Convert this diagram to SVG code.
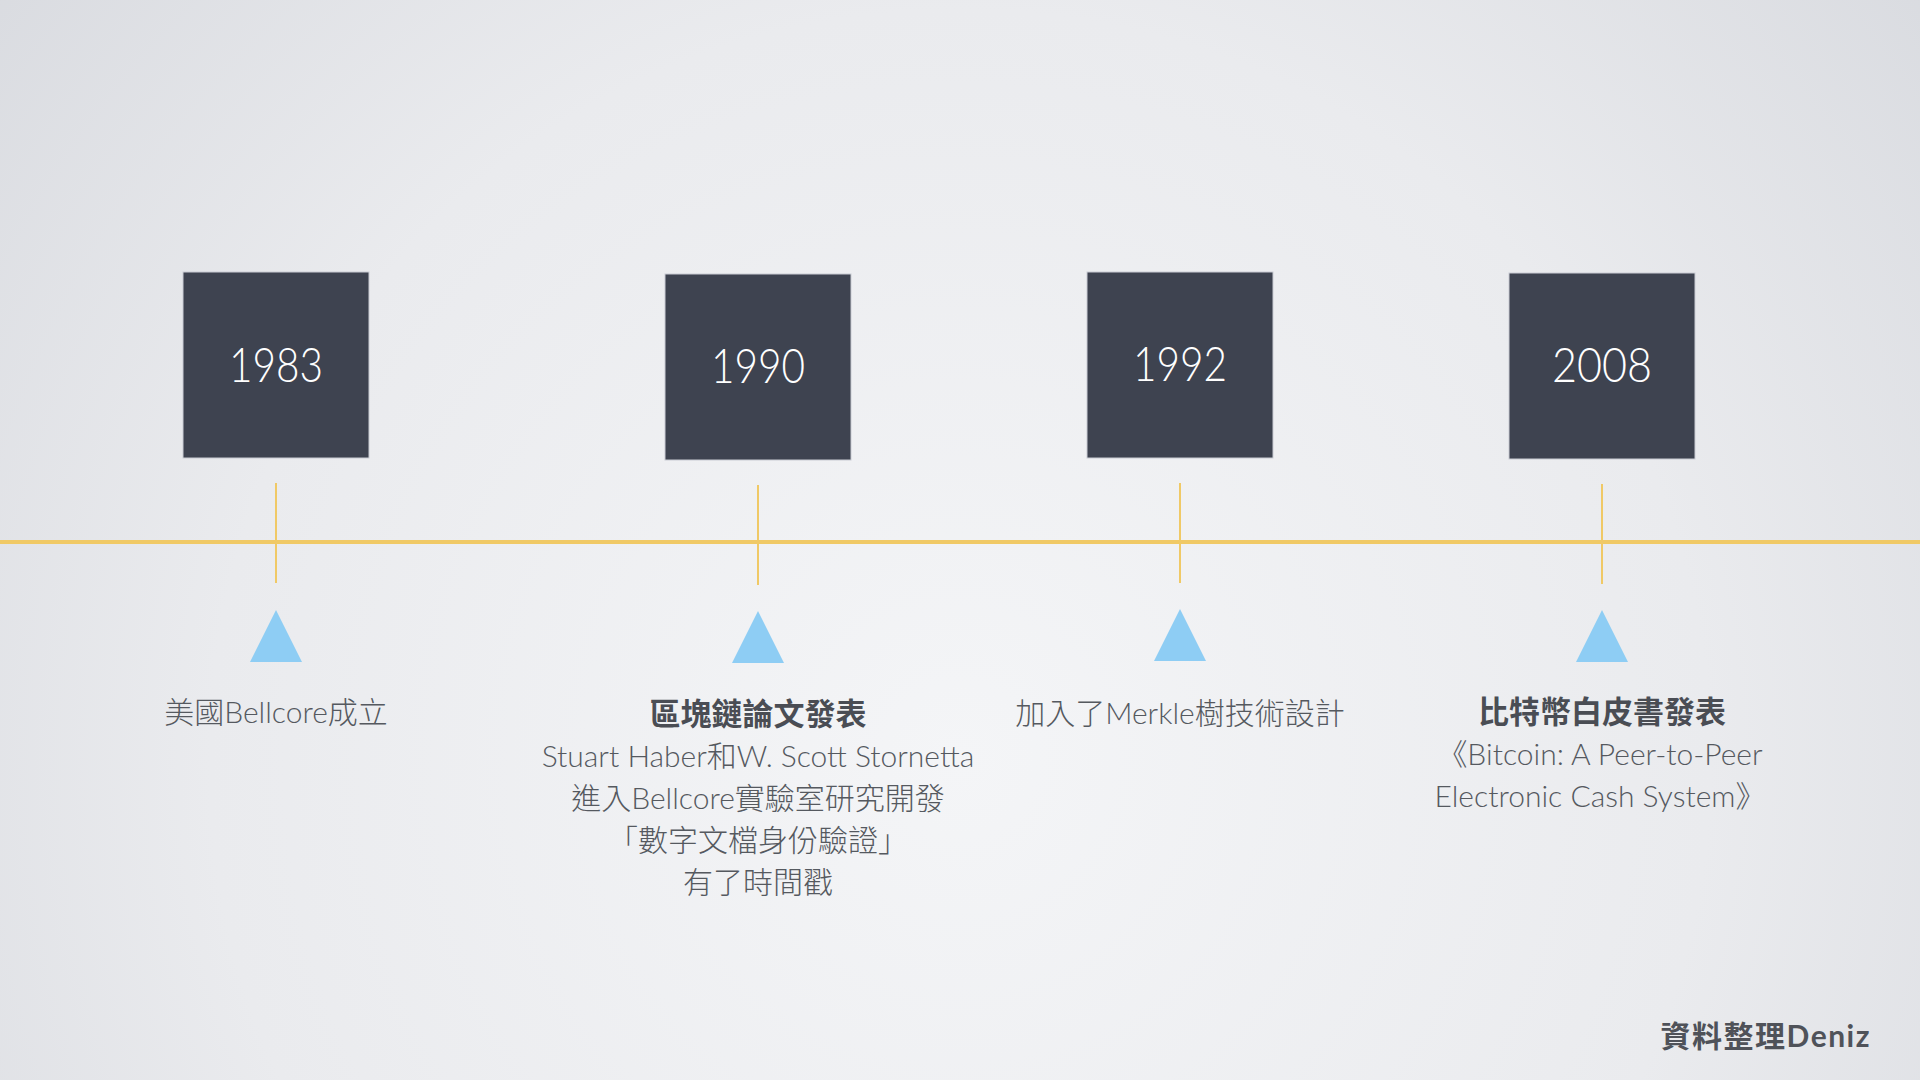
<svg xmlns="http://www.w3.org/2000/svg" width="1920" height="1080" viewBox="0 0 1920 1080">
<defs>
<radialGradient id="bg" cx="960" cy="760" r="1250" gradientUnits="userSpaceOnUse">
<stop offset="0" stop-color="#f4f5f7"/>
<stop offset="0.6" stop-color="#eaebee"/>
<stop offset="1" stop-color="#d9dbe0"/>
</radialGradient>
<style>
.box{fill:#3e4350;stroke:#c9ccd3;stroke-width:1}
.year{font-family:"Lato","Open Sans",sans-serif;font-weight:300;font-size:47px;fill:#ffffff;text-anchor:middle}
.tick{stroke:#f0c966;stroke-width:2}
.tri{fill:#8ecdf4}
.t{font-family:"Lato","Noto Sans CJK TC",sans-serif;font-weight:300;font-size:30px;fill:#55595f;text-anchor:middle}
.b{font-family:"Lato","Noto Sans CJK TC",sans-serif;font-weight:700;font-size:31px;fill:#4a4d54;text-anchor:middle}
.credit{font-family:"Lato","Noto Sans CJK TC",sans-serif;font-weight:700;font-size:30px;letter-spacing:1.5px;fill:#4f5259;text-anchor:end}
</style>
</defs>
<rect width="1920" height="1080" fill="url(#bg)"/>
<g id="connectors">
<line x1="0" y1="542" x2="1920" y2="542" stroke="#f0c966" stroke-width="4"/>
<line class="tick" x1="276" y1="483" x2="276" y2="583"/>
<line class="tick" x1="758" y1="485" x2="758" y2="585"/>
<line class="tick" x1="1180" y1="483" x2="1180" y2="583"/>
<line class="tick" x1="1602" y1="484" x2="1602" y2="584"/>
</g>
<g id="node-1983">
<rect class="box" x="183" y="272" width="186" height="186"/>
<text class="year" x="276" y="382" textLength="94" lengthAdjust="spacingAndGlyphs">1983</text>
<polygon class="tri" points="276,610 250,662 302,662"/>
<text class="t" x="276" y="723">美國Bellcore成立</text>
</g>
<g id="node-1990">
<rect class="box" x="665" y="274" width="186" height="186"/>
<text class="year" x="758" y="383" textLength="94" lengthAdjust="spacingAndGlyphs">1990</text>
<polygon class="tri" points="758,611 732,663 784,663"/>
<text class="b" x="758" y="725">區塊鏈論文發表</text>
<text class="t" x="758" y="767">Stuart Haber和W. Scott Stornetta</text>
<text class="t" x="758" y="809">進入Bellcore實驗室研究開發</text>
<text class="t" x="758" y="851">「數字文檔身份驗證」</text>
<text class="t" x="758" y="893">有了時間戳</text>
</g>
<g id="node-1992">
<rect class="box" x="1087" y="272" width="186" height="186"/>
<text class="year" x="1180" y="381" textLength="94" lengthAdjust="spacingAndGlyphs">1992</text>
<polygon class="tri" points="1180,609 1154,661 1206,661"/>
<text class="t" x="1180" y="724">加入了Merkle樹技術設計</text>
</g>
<g id="node-2008">
<rect class="box" x="1509" y="273" width="186" height="186"/>
<text class="year" x="1602" y="382" textLength="100" lengthAdjust="spacingAndGlyphs">2008</text>
<polygon class="tri" points="1602,610 1576,662 1628,662"/>
<text class="b" x="1602" y="723">比特幣白皮書發表</text>
<text class="t" x="1600" y="765">《Bitcoin: A Peer-to-Peer</text>
<text class="t" x="1600" y="807">Electronic Cash System》</text>
</g>
<g id="credit">
<text class="credit" x="1871" y="1047">資料整理Deniz</text>
</g>
</svg>
